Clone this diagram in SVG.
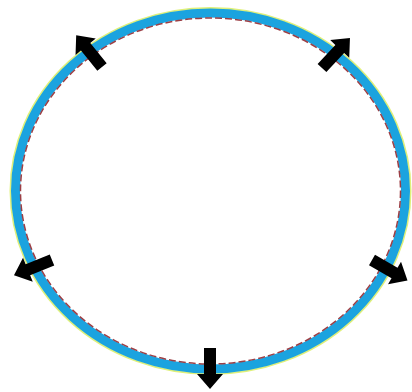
<svg xmlns="http://www.w3.org/2000/svg" width="412" height="392" viewBox="0 0 412 392">
  <defs>
    <style>
      .rim { fill: none; stroke: #dff07a; stroke-width: 2; }
      .band { fill: none; stroke: #1ba3df; stroke-width: 9; }
      .dash { fill: none; stroke: #9c3f45; stroke-width: 1.5; stroke-dasharray: 7 3; }
      .arrow { fill: #000; }
    </style>
    <polygon id="arr" points="0,-6 26,-6 26,-13 41,0 26,13 26,6 0,6"/>
  </defs>
  <rect width="412" height="392" fill="#fff"/>
  <g id="ring">
    <ellipse class="rim" cx="210.5" cy="191" rx="200" ry="183"/>
    <ellipse class="band" cx="210.5" cy="191" rx="195" ry="178"/>
    <ellipse class="dash" cx="210.5" cy="191" rx="190" ry="173"/>
  </g>
  <g id="connectors">
    <use href="#arr" class="arrow" transform="translate(102,67) rotate(-129)"/>
    <use href="#arr" class="arrow" transform="translate(322,68) rotate(-47)"/>
    <use href="#arr" class="arrow" transform="translate(52,260) rotate(158)"/>
    <use href="#arr" class="arrow" transform="translate(372,260) rotate(30)"/>
    <use href="#arr" class="arrow" transform="translate(210,348) rotate(90)"/>
  </g>
</svg>
